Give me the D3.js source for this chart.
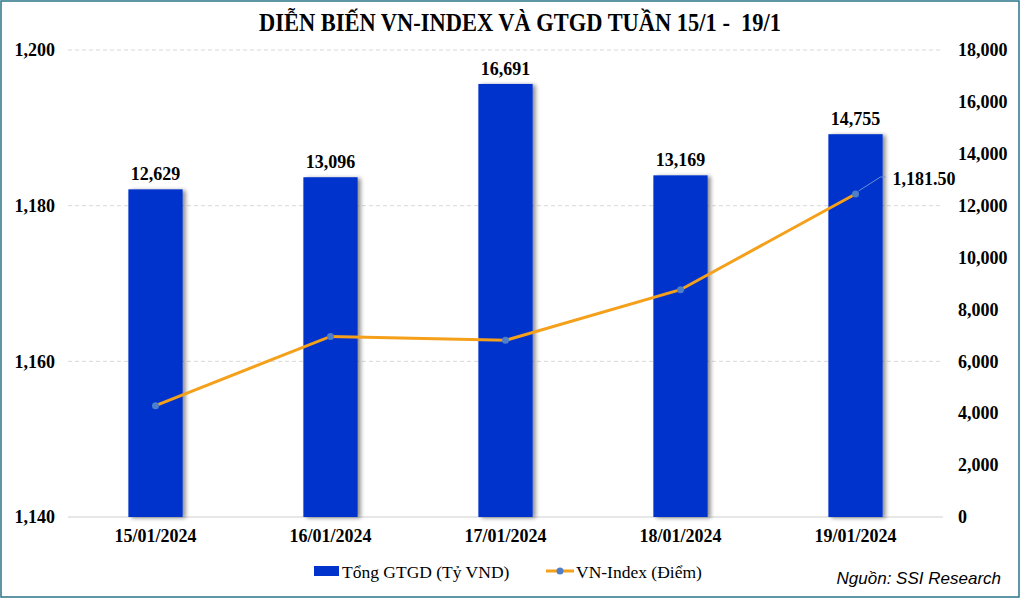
<!DOCTYPE html>
<html><head><meta charset="utf-8">
<script src="https://cdn.jsdelivr.net/npm/d3@7"></script>
<style>body{margin:0;background:#fff}svg{display:block}</style>
</head><body>
<svg id="c" width="1021" height="600"></svg>
<script>
const categories = ["15/01/2024","16/01/2024","17/01/2024","18/01/2024","19/01/2024"];
const volume = [12629, 13096, 16691, 13169, 14755];
const vnindex = [1154.3, 1163.2, 1162.7, 1169.2, 1181.5];
const leftTicks = [1140, 1160, 1180, 1200];
const rightTicks = [0, 2000, 4000, 6000, 8000, 10000, 12000, 14000, 16000, 18000];
const title = "DIỄN BIẾN VN-INDEX VÀ GTGD TUẦN 15/1 -  19/1";
const legendBar = "Tổng GTGD (Tỷ VND)";
const legendLine = "VN-Index (Điểm)";
const source = "Nguồn: SSI Research";

const svg = d3.select("#c");
const W = 1021, H = 600;
const m = {l: 68, r: 943, t: 50, b: 517};
const serif = "'Liberation Serif','Times New Roman',serif";
const FS = 18;

svg.append("rect").attr("x",1).attr("y",1).attr("width",W-3).attr("height",H-4)
  .attr("fill","#fff").attr("stroke","#2a7488").attr("stroke-width",1.5);

const x = d3.scaleBand().domain(categories).range([m.l, m.r]).paddingInner(0.69).paddingOuter(0.345);
const yL = d3.scaleLinear().domain([1140, 1200]).range([m.b, m.t]);
const yR = d3.scaleLinear().domain([0, 18000]).range([m.b, m.t]);

const defs = svg.append("defs");
const f = defs.append("filter").attr("id","sh").attr("x","-20%").attr("y","-5%").attr("width","150%").attr("height","110%");
f.append("feGaussianBlur").attr("in","SourceAlpha").attr("stdDeviation",2).attr("result","b");
f.append("feOffset").attr("in","b").attr("dx",3).attr("dy",1).attr("result","o");
f.append("feComponentTransfer").attr("in","o").attr("result","o2").append("feFuncA").attr("type","linear").attr("slope",0.45);
const mg = f.append("feMerge"); mg.append("feMergeNode").attr("in","o2"); mg.append("feMergeNode").attr("in","SourceGraphic");

// gridlines
svg.append("g").selectAll("line").data(leftTicks).join("line")
  .attr("x1", m.l).attr("x2", m.r).attr("y1", d=>yL(d)).attr("y2", d=>yL(d))
  .attr("stroke", d=> d===1140 ? "#cfcfcf" : "#d9d9d9")
  .attr("stroke-dasharray", d=> d===1140 ? null : "4,3").attr("stroke-width",1);

// axes
const axL = svg.append("g").attr("transform",`translate(${m.l},0)`)
  .call(d3.axisLeft(yL).tickValues(leftTicks).tickFormat(d3.format(",")).tickSize(0).tickPadding(13));
axL.select(".domain").remove();
axL.selectAll("text").attr("font-family",serif).attr("font-weight","bold").attr("font-size",FS).attr("fill","#000");

const axR = svg.append("g").attr("transform",`translate(${m.r},0)`)
  .call(d3.axisRight(yR).tickValues(rightTicks).tickFormat(d3.format(",")).tickSize(0).tickPadding(15));
axR.select(".domain").remove();
axR.selectAll("text").attr("font-family",serif).attr("font-weight","bold").attr("font-size",FS).attr("fill","#000");

const axB = svg.append("g").attr("transform",`translate(0,${m.b})`)
  .call(d3.axisBottom(x).tickSize(0).tickPadding(12));
axB.select(".domain").remove();
axB.selectAll("text").attr("font-family",serif).attr("font-weight","bold").attr("font-size",FS).attr("fill","#000");

// bars
svg.append("g").selectAll("rect").data(volume).join("rect")
  .attr("x",(d,i)=>x(categories[i])).attr("width",x.bandwidth())
  .attr("y",d=>yR(d)).attr("height",d=>yR(0)-yR(d))
  .attr("fill","#0033cc").attr("filter","url(#sh)");

svg.append("g").selectAll("text").data(volume).join("text")
  .attr("x",(d,i)=>x(categories[i])+x.bandwidth()/2).attr("y",d=>yR(d)-9)
  .attr("text-anchor","middle").attr("font-family",serif).attr("font-weight","bold").attr("font-size",FS)
  .text(d=>d3.format(",")(d));

// line
const cx = i => x(categories[i]) + x.bandwidth()/2;
const line = d3.line().x((d,i)=>cx(i)).y(d=>yL(d));
svg.append("path").datum(vnindex).attr("d",line).attr("fill","none").attr("stroke","#f5a01a").attr("stroke-width",3);
svg.append("g").selectAll("circle").data(vnindex).join("circle")
  .attr("cx",(d,i)=>cx(i)).attr("cy",d=>yL(d)).attr("r",3.5).attr("fill","#4f7fc9");

// last label with leader
const li = vnindex.length-1;
const px = cx(li), py = yL(vnindex[li]);
svg.append("polyline").attr("points",`${px+3},${py-3} ${px+25},${py-17} ${px+30},${py-17}`)
  .attr("fill","none").attr("stroke","#6d8fd0").attr("stroke-width",1);
svg.append("text").attr("x",px+37).attr("y",py-9).attr("font-family",serif).attr("font-weight","bold")
  .attr("font-size",FS).text(d3.format(",.2f")(vnindex[li]));

// title
svg.append("text").attr("x",520).attr("y",31).attr("text-anchor","middle").attr("font-family",serif)
  .attr("font-weight","bold").attr("font-size",25).attr("textLength",522).attr("lengthAdjust","spacingAndGlyphs")
  .style("white-space","pre").text(title);

// legend
const lg = svg.append("g");
lg.append("rect").attr("x",314).attr("y",566).attr("width",25).attr("height",10).attr("fill","#0033cc");
lg.append("text").attr("x",342).attr("y",578).attr("font-family",serif).attr("font-size",17.5).text(legendBar);
lg.append("line").attr("x1",546).attr("x2",574).attr("y1",571).attr("y2",571).attr("stroke","#f5a01a").attr("stroke-width",3);
lg.append("circle").attr("cx",560).attr("cy",571).attr("r",3.5).attr("fill","#4f7fc9");
lg.append("text").attr("x",576).attr("y",578).attr("font-family",serif).attr("font-size",17.5).text(legendLine);

svg.append("text").attr("x",1001).attr("y",584).attr("text-anchor","end").attr("font-family","'Liberation Sans',Arial,sans-serif")
  .attr("font-style","italic").attr("font-size",17).text(source);
</script>
</body></html>
